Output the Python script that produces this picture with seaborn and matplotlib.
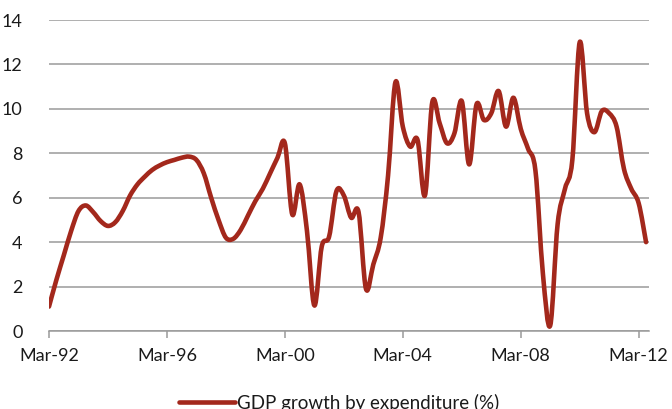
import numpy as np
import pandas as pd
import seaborn as sns
import matplotlib
matplotlib.use("Agg")
import matplotlib.pyplot as plt
from matplotlib.path import Path
from matplotlib.patches import PathPatch
from matplotlib.lines import Line2D

# Quarterly GDP growth by expenditure (%), Mar-92 to Jun-12
gdp_growth = [
    1.1, 2.3, 3.4, 4.5, 5.4, 5.65, 5.35, 4.95,          # 1992-93
    4.73, 4.9, 5.4, 6.1, 6.6, 6.95, 7.25, 7.45,         # 1994-95
    7.6, 7.7, 7.8, 7.85, 7.7, 7.1, 6.0, 5.0,            # 1996-97
    4.2, 4.15, 4.55, 5.2, 5.85, 6.4, 7.1, 7.8,          # 1998-99
    8.45, 5.25, 6.6, 4.5, 1.15, 3.8, 4.25, 6.3,         # 2000-01
    6.1, 5.1, 5.35, 1.9, 3.0, 4.2, 7.0, 11.2,           # 2002-03
    9.2, 8.3, 8.6, 6.1, 10.3, 9.35, 8.45, 8.9,          # 2004-05
    10.35, 7.5, 10.2, 9.5, 9.8, 10.8, 9.2, 10.5,        # 2006-07
    9.1, 8.2, 7.2, 2.6, 0.25, 4.8, 6.4, 7.7,            # 2008-09
    13.0, 9.8, 8.95, 9.9, 9.8, 9.2, 7.3, 6.4,           # 2010-11
    5.75, 4.0,                                          # 2012
]
tick_labels = ["Mar-92", "Mar-96", "Mar-00", "Mar-04", "Mar-08", "Mar-12"]
y_ticks = [0, 2, 4, 6, 8, 10, 12, 14]
series_name = "GDP growth by expenditure (%)"

df = pd.DataFrame({"quarter": np.arange(len(gdp_growth)), "growth": gdp_growth})

sns.set_theme(style="white")
plt.rcParams["font.family"] = ["Lato", "DejaVu Sans"]

fig = plt.figure(figsize=(6.72, 4.09), dpi=100)
ax = fig.add_axes([49 / 672, 78 / 409, 600 / 672, 311 / 409])

line_color = "#A3281C"
line_width = 3.3
sns.lineplot(data=df, x="quarter", y="growth", ax=ax, color=line_color,
             linewidth=line_width, legend=False)


def smoothed_path(pts):
    """Cubic Bezier path through the points (Catmull-Rom style tangents)."""
    n = len(pts)
    ext = np.vstack([pts[0], pts, pts[-1]])
    verts = [pts[0]]
    codes = [Path.MOVETO]
    for i in range(n - 1):
        p0, p1, p2, p3 = ext[i], ext[i + 1], ext[i + 2], ext[i + 3]
        c1 = p1 + (p2 - p0) / 6.0
        c2 = p2 - (p3 - p1) / 6.0
        verts += [c1, c2, p2]
        codes += [Path.CURVE4] * 3
    return Path(np.array(verts), codes)


# Render the seaborn line as a smoothed curve
data_line = ax.lines[0]
curve = PathPatch(smoothed_path(data_line.get_xydata()), facecolor="none",
                  edgecolor=line_color, linewidth=line_width,
                  capstyle="round", joinstyle="round", transform=ax.transData,
                  zorder=data_line.get_zorder())
data_line.set_visible(False)
ax.add_patch(curve)

ax.set_xlim(0, 81.4)
ax.set_ylim(0, 14)
ax.set_yticks(y_ticks)
ax.set_yticklabels([str(v) for v in y_ticks])
ax.set_xticks(np.arange(0, 81, 16))
ax.set_xticklabels(tick_labels)
ax.set_xlabel("")
ax.set_ylabel("")

grid_color = "#9a9a9a"
ax.grid(axis="y", color=grid_color, linewidth=1.1)
ax.set_axisbelow(True)
for side in ["top", "right", "left"]:
    ax.spines[side].set_visible(False)
ax.spines["bottom"].set_color(grid_color)
ax.spines["bottom"].set_linewidth(1.1)

font_size = 13
text_color = "#1a1a1a"
ax.tick_params(axis="x", which="major", bottom=True, direction="out", length=5,
               width=1.1, color=grid_color, labelsize=font_size,
               labelcolor=text_color, pad=7)
ax.tick_params(axis="y", left=False, labelsize=font_size,
               labelcolor=text_color, pad=13)

handle = Line2D([], [], color=line_color, linewidth=line_width,
                solid_capstyle="round")
fig.legend(handles=[handle], labels=[series_name], loc="center",
           bbox_to_anchor=(339 / 672, 6 / 409), frameon=False,
           fontsize=13.5, handlelength=3.0, handletextpad=0.12,
           labelcolor=text_color)

fig.savefig("out.png", dpi=100)
